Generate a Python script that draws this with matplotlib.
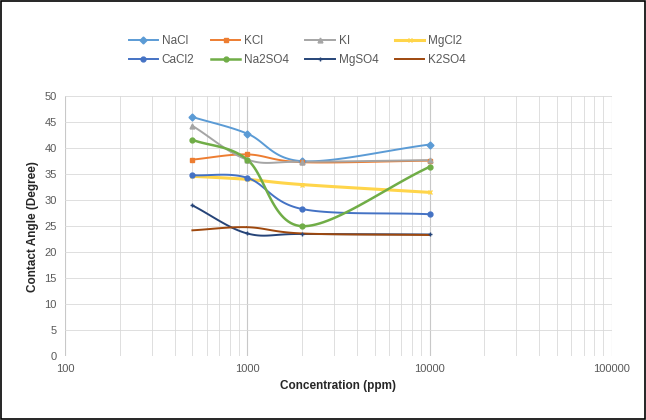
import matplotlib
matplotlib.use('Agg')
import matplotlib.pyplot as plt
import numpy as np
from matplotlib.patches import Rectangle

plt.rcParams['font.family'] = ['Liberation Sans', 'DejaVu Sans']

# concentrations (ppm)
conc = [500, 1000, 2000, 10000]

# contact angle (degree) per salt
nacl = [46.0, 42.8, 37.5, 40.7]
kcl = [37.8, 38.8, 37.3, 37.6]
ki = [44.3, 37.8, 37.4, 37.7]
mgcl2 = [34.6, 34.0, 33.0, 31.5]
cacl2 = [34.8, 34.3, 28.3, 27.3]
na2so4 = [41.6, 37.8, 25.0, 36.4]
mgso4 = [29.0, 23.6, 23.5, 23.4]
k2so4 = [24.2, 24.8, 23.6, 23.3]

names = ['NaCl', 'KCl', 'KI', 'MgCl2', 'CaCl2', 'Na2SO4', 'MgSO4', 'K2SO4']
series = [nacl, kcl, ki, mgcl2, cacl2, na2so4, mgso4, k2so4]
colors = ['#5B9BD5', '#ED7D31', '#A5A5A5', '#FFD54A', '#4472C4', '#70AD47', '#264478', '#9E480E']
markers = ['D', 's', '^', 'x', 'o', 'o', '+', None]
widths = [1.4, 1.4, 1.4, 2.2, 1.4, 1.8, 1.4, 1.4]

xticks = [100, 1000, 10000, 100000]
yticks = list(range(0, 55, 5))


def smooth(xs, ys, n=30):
    # catmull-rom through the points in log-x space (Excel "smoothed line" look)
    lx = np.log10(xs)
    y = np.asarray(ys, dtype=float)
    px = np.concatenate([[2 * lx[0] - lx[1]], lx, [2 * lx[-1] - lx[-2]]])
    py = np.concatenate([[2 * y[0] - y[1]], y, [2 * y[-1] - y[-2]]])
    ox, oy = [], []
    for i in range(1, len(px) - 2):
        t = np.linspace(0, 1, n)
        for arr, out in ((px, ox), (py, oy)):
            p0, p1, p2, p3 = arr[i - 1], arr[i], arr[i + 1], arr[i + 2]
            c = 0.5 * ((2 * p1) + (-p0 + p2) * t + (2 * p0 - 5 * p1 + 4 * p2 - p3) * t ** 2
                       + (-p0 + 3 * p1 - 3 * p2 + p3) * t ** 3)
            out.extend(c)
    return 10 ** np.array(ox), np.array(oy)


fig = plt.figure(figsize=(6.46, 4.2), dpi=100)
ax = fig.add_axes([0.1006, 0.152, 0.8464, 0.619])

handles = []
for name, ys, c, m, w in zip(names, series, colors, markers, widths):
    sx, sy = smooth(conc, ys)
    ax.plot(sx, sy, color=c, lw=w, zorder=3)
    ax.plot(conc, ys, linestyle='none', marker=m, color=c, markersize=3.5, zorder=4)
    h, = ax.plot([], [], color=c, lw=w, marker=m, markersize=3.5, label=name)
    handles.append(h)

ax.set_xscale('log')
ax.set_xlim(100, 100000)
ax.set_ylim(0, 50)
ax.set_xticks(xticks)
ax.set_xticklabels([str(v) for v in xticks])
ax.set_yticks(yticks)
ax.tick_params(axis='both', which='both', length=0, labelsize=8, colors='#595959', pad=6)
ax.grid(True, which='major', color='#C8C8C8', lw=0.8)
ax.grid(True, which='minor', axis='x', color='#D9D9D9', lw=0.6)
ax.grid(True, which='major', axis='y', color='#D9D9D9', lw=0.6)
for s in ax.spines.values():
    s.set_visible(False)

ax.set_xlabel('Concentration (ppm)', fontsize=8.5, fontweight='bold', color='#262626')
ax.set_ylabel('Contact Angle (Degree)', fontsize=8.5, fontweight='bold', color='#262626')

# matplotlib fills legend column-wise; reorder so rows read as in the reference
order = [0, 4, 1, 5, 2, 6, 3, 7]
leg = fig.legend([handles[i] for i in order], [names[i] for i in order], ncol=4,
                 loc='center', bbox_to_anchor=(0.46, 0.88), frameon=False,
                 fontsize=8.5, handlelength=2.5, columnspacing=1.4, labelspacing=0.6,
                 handletextpad=0.3)
for t in leg.get_texts():
    t.set_color('#595959')

fig.patches.append(Rectangle((0.002, 0.002), 0.996, 0.996, transform=fig.transFigure,
                             fill=False, edgecolor='black', lw=1.2))

fig.savefig('out.png', dpi=100)
